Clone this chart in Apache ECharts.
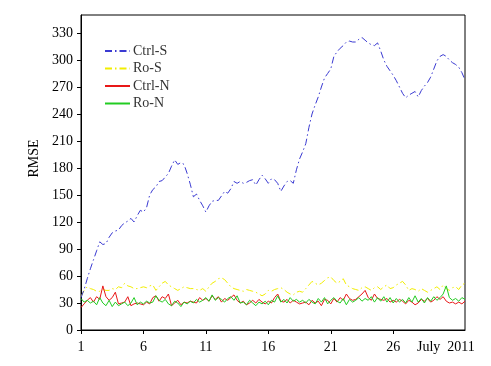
<!DOCTYPE html>
<html><head><meta charset="utf-8">
<script src="https://cdn.jsdelivr.net/npm/echarts@6/dist/echarts.min.js"></script>
<style>html,body{margin:0;padding:0;background:#fff}#c{width:491px;height:366px}</style>
</head><body><div id="c"></div>
<script>
// 6-hourly samples, July 1 00h ... July 31 18h
const startDay = 1;
const stepDay = 0.25;
const xTicks = [1, 6, 11, 16, 21, 26];
const xEndLabel = 'July  2011';
const yTicks = [0, 30, 60, 90, 120, 150, 180, 210, 240, 270, 300, 330];
const yName = 'RMSE';
const seriesNames = ['Ctrl-S', 'Ro-S', 'Ctrl-N', 'Ro-N'];

const ctrlS = [
  36, 45, 57, 68,   78, 88, 98, 95,   96, 103, 108, 110,  111, 116, 119, 121,
  124, 120, 127, 133,  131, 136, 150, 156,  159, 165, 166, 170,  174, 182, 189, 184,
  186, 184, 174, 162,  148, 151, 144, 138,  131, 138, 143, 144,  144, 149, 154, 152,
  157, 165, 163, 165,  163, 164, 166, 167,  161, 167, 172, 168,  163, 168, 167, 163,
  154, 160, 165, 166,  163, 178, 190, 198,  207, 225, 240, 250,  259, 270, 280, 285,
  290, 304, 309, 313,  316, 320, 321, 320,  320, 323, 325, 322,  319, 317, 316, 319,
  310, 300, 293, 288,  283, 277, 270, 263,  258, 261, 263, 265,  259, 266, 271, 275,
  281, 290, 299, 304,  306, 304, 300, 297,  295, 292, 286, 278
];
const roS = [
  37, 44, 48, 46,  45, 43, 43, 45,  44, 44, 46, 45,  48, 47, 52, 49,
  48, 46, 46, 47,  48, 47, 49, 50,  44, 48, 52, 54,  50, 48, 46, 44,
  46, 48, 47, 46,  46, 45, 44, 46,  43, 48, 52, 54,  57, 58, 56, 52,
  48, 46, 45, 44,  43, 45, 44, 43,  42, 40, 38, 40,  44, 43, 45, 46,
  47, 45, 42, 40,  39, 42, 43, 42,  46, 50, 54, 52,  50, 52, 55, 58,
  59, 55, 52, 54,  57, 50, 48, 46,  45, 44, 47, 48,  46, 44, 47, 48,
  45, 48, 50, 46,  47, 50, 52, 54,  50, 44, 46, 45,  43, 46, 44, 42,
  44, 46, 48, 45,  50, 46, 44, 47,  48, 45, 50, 52
];
const ctrlN = [
  25, 29, 33, 36,  31, 37, 34, 49,  37, 33, 36, 42,  29, 30, 31, 37,
  27, 29, 30, 29,  28, 31, 29, 36,  38, 32, 37, 35,  40, 27, 30, 33,
  28, 31, 30, 32,  31, 30, 36, 33,  35, 32, 38, 34,  37, 31, 35, 33,
  36, 39, 33, 30,  32, 28, 30, 33,  30, 34, 31, 29,  32, 30, 36, 40,
  32, 31, 34, 30,  33, 31, 29, 30,  31, 28, 33, 30,  32, 27, 34, 33,
  29, 35, 31, 36,  33, 40, 35, 33,  34, 37, 40, 44,  36, 33, 40, 35,
  34, 33, 35, 31,  33, 31, 34, 32,  29, 33, 31, 28,  30, 34, 32, 35,
  31, 33, 37, 34,  37, 32, 30, 31,  29, 31, 29, 32
];
const roN = [
  35, 31, 33, 30,  32, 28, 36, 30,  27, 33, 26, 31,  27, 29, 31, 27,
  30, 36, 28, 31,  29, 32, 30, 31,  38, 33, 31, 34,  29, 27, 32, 30,
  26, 31, 29, 32,  30, 34, 31, 33,  36, 32, 39, 33,  36, 34, 31, 35,
  37, 33, 38, 30,  31, 28, 33, 30,  27, 31, 29, 32,  28, 33, 31, 38,
  31, 34, 30, 36,  32, 34, 31, 33,  30, 34, 31, 29,  35, 31, 36, 29,
  33, 36, 32, 30,  35, 28, 34, 31,  33, 36, 32, 35,  33, 37, 31, 36,
  32, 37, 31, 36,  30, 35, 31, 34,  30, 36, 31, 38,  31, 35, 30, 36,
  32, 37, 33, 36,  40, 49, 36, 33,  35, 32, 36, 34
];

const toXY = arr => arr.map((v, i) => [startDay + i * stepDay, v]);
const serif = '"Liberation Serif", "Times New Roman", serif';
const chart = echarts.init(document.getElementById('c'));
chart.setOption({
  animation: false,
  backgroundColor: '#fff',
  grid: { left: 81, right: 26, top: 15, bottom: 36, show: true, borderColor: '#000', borderWidth: 1, backgroundColor: 'transparent' },
  legend: {
    orient: 'vertical', left: 99, top: 39,
    itemWidth: 25, itemHeight: 14, itemGap: 3.5,
    itemStyle: { opacity: 0 },
    textStyle: { fontFamily: serif, fontSize: 14, color: '#333', padding: [0, 0, 0, -2] },
    data: seriesNames
  },
  graphic: [{
    type: 'text', left: 417, top: 340,
    style: { text: xEndLabel, font: '14px ' + serif, fill: '#000' }
  }],
  xAxis: {
    type: 'value', min: 1, max: 31.75,
    axisLine: { lineStyle: { color: '#000', width: 1 } },
    axisTick: { length: 4, lineStyle: { color: '#000' }, customValues: xTicks },
    axisLabel: { customValues: xTicks, fontFamily: serif, fontSize: 14, color: '#000', margin: 10 },
    splitLine: { show: false }
  },
  yAxis: {
    type: 'value', min: 0, max: 350,
    name: yName, nameLocation: 'middle', nameGap: 35, nameRotate: 90,
    nameTextStyle: { fontFamily: serif, fontSize: 14, color: '#000', padding: [0, 0, 0, 28] },
    axisLine: { show: true, lineStyle: { color: '#000', width: 1 } },
    axisTick: { show: true, length: 4, lineStyle: { color: '#000' }, customValues: yTicks },
    axisLabel: { customValues: yTicks, fontFamily: serif, fontSize: 14, color: '#000', margin: 8 },
    splitLine: { show: false }
  },
  series: [
    { name: seriesNames[0], type: 'line', data: toXY(ctrlS), symbol: 'none', z: 5,
      lineStyle: { color: '#3a3ad2', width: 1, type: [7, 3, 1.5, 3] }, itemStyle: { color: '#3a3ad2' } },
    { name: seriesNames[1], type: 'line', data: toXY(roS), symbol: 'none', z: 2,
      lineStyle: { color: '#f2ee00', width: 1, type: [7, 3, 1.5, 3] }, itemStyle: { color: '#f2ee00' } },
    { name: seriesNames[2], type: 'line', data: toXY(ctrlN), symbol: 'none', z: 3,
      lineStyle: { color: '#e81818', width: 1 }, itemStyle: { color: '#e81818' } },
    { name: seriesNames[3], type: 'line', data: toXY(roN), symbol: 'none', z: 4,
      lineStyle: { color: '#22cc22', width: 1 }, itemStyle: { color: '#22cc22' } }
  ]
});
</script>
</body></html>
